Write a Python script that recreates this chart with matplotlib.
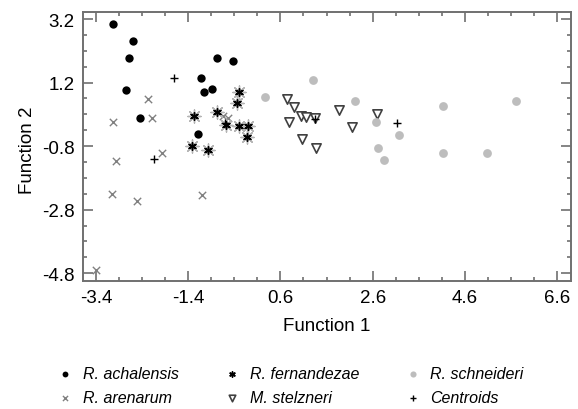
"""Discriminant function scores for five anuran taxa (Function 1 vs Function 2)."""
import numpy as np
import matplotlib
matplotlib.use("Agg")
import matplotlib.pyplot as plt

plt.rcParams["font.family"] = ["Liberation Sans", "DejaVu Sans"]

# ------------------------------------------------------------ data
ach_x = [-3.02, -2.60, -2.68, -2.75, -2.44, -1.12, -1.05, -0.88, -0.77, -0.43, -1.19]
ach_y = [3.06, 2.50, 1.96, 0.96, 0.10, 1.36, 0.92, 1.00, 1.96, 1.89, -0.42]

are_x = [-2.28, -2.19, -3.02, -2.97, -1.97, -3.05, -2.52, -1.11, -3.39, -0.65, -0.54]
are_y = [0.68, 0.07, -0.04, -1.28, -1.02, -2.31, -2.52, -2.34, -4.70, 0.15, 0.10]

fer_x = [-0.30, -0.335, -1.27, -0.78, -0.59, -0.30, -0.10, -0.135, -1.32, -0.96]
fer_y = [0.92, 0.57, 0.16, 0.27, -0.12, -0.17, -0.17, -0.52, -0.81, -0.92]

ste_x = [0.75, 0.89, 1.05, 1.15, 1.35, 0.78, 1.07, 1.37, 1.86, 2.16, 2.70]
ste_y = [0.68, 0.42, 0.15, 0.12, 0.07, -0.05, -0.59, -0.85, 0.33, -0.19, 0.22]

sch_x = [0.26, 1.31, 2.22, 2.67, 3.17, 2.71, 2.84, 4.12, 4.12, 5.08, 5.70]
sch_y = [0.74, 1.27, 0.61, -0.05, -0.46, -0.86, -1.23, 0.45, -1.02, -1.02, 0.61]

cen_x = [-1.71, -2.15, -0.61, 1.35, 3.12]
cen_y = [1.36, -1.22, -0.08, 0.05, -0.08]

x_ticks = [-3.4, -1.4, 0.6, 2.6, 4.6, 6.6]
y_ticks = [-4.8, -2.8, -0.8, 1.2, 3.2]

# ------------------------------------------------------------ plot
fig = plt.figure(figsize=(5.78, 4.10), dpi=100)
ax = fig.add_axes([0.1436, 0.312, 0.8443, 0.656])

h_ach = ax.scatter(ach_x, ach_y, s=36, marker="o", color="black", lw=0,
                   label="R. achalensis", zorder=3)
h_are = ax.scatter(are_x, are_y, s=28, marker="x", color="#808080", lw=1.0,
                   label="R. arenarum", zorder=3)
# gray halo under the black asterisk
ax.scatter(fer_x, fer_y, s=90, marker=(8, 2, 0), color="#b4b4b4", lw=1.0,
           zorder=3)
h_fer = ax.scatter(fer_x, fer_y, s=30, marker=(6, 2, 0), color="black",
                   lw=1.1, label="R. fernandezae", zorder=4)
h_ste = ax.scatter(ste_x, ste_y, s=45, marker="v", facecolors="white",
                   edgecolors="#404040", lw=1.2, label="M. stelzneri", zorder=3)
h_sch = ax.scatter(sch_x, sch_y, s=40, marker="o", color="#bdbdbd", lw=0,
                   label="R. schneideri", zorder=3)
h_cen = ax.scatter(cen_x, cen_y, s=40, marker="+", color="black", lw=1.0,
                   label="Centroids", zorder=5)

ax.set_xlim(-3.68, 6.9)
ax.set_ylim(-5.05, 3.42)
ax.set_xticks(x_ticks)
ax.set_xticklabels([f"{v:.1f}" for v in x_ticks])
ax.set_yticks(y_ticks)
ax.set_yticklabels([f"{v:.1f}" for v in y_ticks])
ax.set_xticks(np.arange(-3.4, 6.7, 0.5), minor=True)
ax.set_yticks(np.arange(-4.8, 3.3, 0.5), minor=True)
ax.tick_params(which="both", direction="in", top=True, right=True,
               color="#707070", width=1.2, labelsize=13.5, labelcolor="black")
ax.tick_params(which="major", length=7, pad=6)
ax.tick_params(which="minor", length=3)
for sp in ax.spines.values():
    sp.set_color("#707070")
    sp.set_linewidth(1.4)

ax.set_xlabel("Function 1", fontsize=13.5)
ax.set_ylabel("Function 2", fontsize=13.5)
ax.xaxis.set_label_coords(0.5, -0.135)
ax.yaxis.set_label_coords(-0.097, 0.49)

fig.legend(handles=[h_ach, h_are, h_fer, h_ste, h_sch, h_cen],
           ncol=3, loc="upper left", bbox_to_anchor=(0.088, 0.12),
           frameon=False, markerscale=0.7, handlelength=1.0,
           handletextpad=0.6, columnspacing=2.85, labelspacing=0.55,
           prop={"style": "italic", "size": 11.5}, borderaxespad=0)

fig.savefig("out.png", dpi=100)
